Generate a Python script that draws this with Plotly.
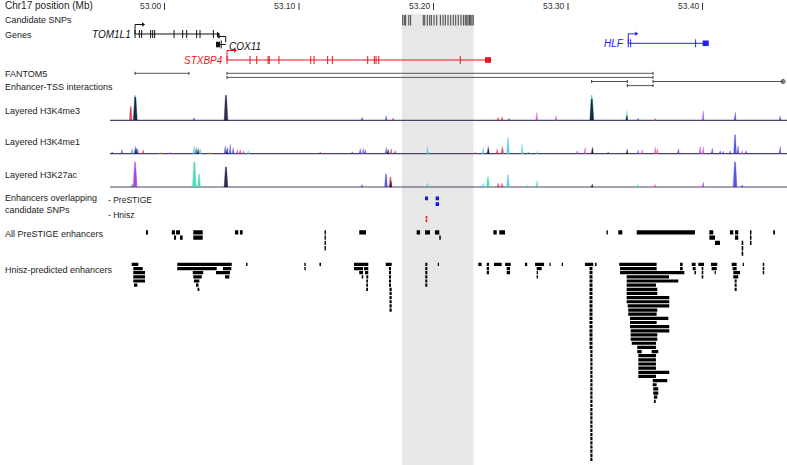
import plotly.graph_objects as go

# ---------------- data (positions in Mb on chr17) ----------------
tick_pos = [53.00, 53.10, 53.20, 53.30, 53.40]
tick_text = ["53.00", "53.10", "53.20", "53.30", "53.40"]

snp_region = [53.1766, 53.2297]

candidate_snps = [53.1771, 53.1783, 53.1793, 53.1816, 53.1830, 53.1924, 53.1935,
                  53.1954, 53.1972, 53.1984, 53.2004, 53.2024, 53.2051, 53.2071,
                  53.2088, 53.2108, 53.2128, 53.2147, 53.2165, 53.2184, 53.2204,
                  53.2222, 53.2236, 53.2247, 53.2257, 53.2267, 53.2277, 53.2286,
                  53.2296]

gene_names = ["TOM1L1", "COX11", "STXBP4", "HLF"]
gene_start = [52.9781, 53.0383, 53.0465, 53.3448]
gene_end = [53.0398, 53.0455, 53.2428, 53.4046]
gene_strand = ["+", "-", "+", "+"]
gene_exons = [
    [52.9781, 52.9813, 52.9830, 52.9897, 52.9912, 52.9927,
     53.0071, 53.0135, 53.0165, 53.0239, 53.0264, 53.0363],
    [53.0422],
    [53.0465, 53.0636, 53.0686, 53.0770, 53.0779, 53.0851, 53.1087, 53.1112,
     53.1213, 53.1248, 53.1511, 53.1560, 53.1573, 53.1593, 53.2199],
    [53.3448, 53.3466, 53.3949],
]
gene_block = [None, (53.0383, 53.0413), (53.2383, 53.2428), (53.4001, 53.4046)]

# FANTOM5 enhancer-TSS interactions
f5_start = [52.9781, 53.0465, 53.0465, 53.3176, 53.3441, 53.3632]
f5_end = [53.0182, 53.3632, 53.3632, 53.3441, 53.3632, 53.4599]
f5_row = [0, 0, 1, 2, 3, 2]

# layered histone peaks: position, signal height, cell-line colour
h3k4me3_pos = [52.9749, 52.9781, 52.9783, 53.0219, 53.0457, 53.1468, 53.1647, 53.1699,
               53.2480, 53.2509, 53.2561, 53.2767, 53.2909, 53.3176, 53.3177, 53.3436,
               53.3437, 53.3520, 53.3647, 53.4004, 53.4242, 53.4576]
h3k4me3_val = [14, 25, 23, 2.5, 25, 3, 4.5, 2.5, 3, 3.5, 2, 8, 4.5, 25, 21, 9.5, 5, 2, 2,
               9.5, 8, 4]
h3k4me3_col = ["red", "cyan", "black", "blue", "black", "blue", "blue", "red", "red", "red",
               "blue", "pink", "pink", "teal", "black", "teal", "black", "blue", "pink",
               "purple", "blue", "blue"]

h3k4me1_pos = [52.9610, 52.9682, 52.9758, 52.9781, 52.9788, 52.9799, 52.9840, 52.9967,
               53.0041, 53.0219, 53.0234, 53.0249, 53.0264, 53.0338, 53.0450, 53.0465,
               53.0487, 53.0509, 53.0539, 53.0561, 53.0584, 53.0621, 53.1156, 53.1394,
               53.1454, 53.1476, 53.1491, 53.1647, 53.1662, 53.1684, 53.1714, 53.1954,
               53.2309, 53.2368, 53.2405, 53.2407, 53.2472, 53.2509, 53.2515, 53.2554,
               53.2658, 53.2703, 53.2769, 53.3067, 53.3126, 53.3179, 53.3181, 53.3297,
               53.3439, 53.3520, 53.3550, 53.3647, 53.3662, 53.3820, 53.3981, 53.4004,
               53.4071, 53.4130, 53.4152, 53.4204, 53.4242, 53.4263, 53.4294, 53.4323,
               53.4576]
h3k4me1_val = [2, 4, 5, 7.5, 5.5, 5, 4, 2, 1.5, 8, 6, 5, 5, 2, 8, 6, 9.5, 6, 4, 4, 3, 3,
               2, 2, 5, 5.5, 4, 6.5, 4.5, 5, 3, 7, 2, 6.5, 7.5, 5, 5, 7.5, 5, 15.5, 9.5,
               2, 2.5, 3, 6.5, 7, 6, 2, 4.5, 4, 4, 6.5, 5, 5, 7.5, 7, 5.5, 3, 2.5, 3, 19,
               8, 3, 3, 7.5]
h3k4me1_col = ["blue", "blue", "green", "blue", "black", "blue", "red", "orange", "purple",
               "teal", "blue", "black", "teal", "orange", "blue", "black", "blue", "blue",
               "purple", "red", "purple", "cyan", "red", "blue", "blue", "purple", "blue",
               "blue", "black", "red", "blue", "cyan", "pink", "cyan", "blue", "black",
               "red", "red", "pink", "cyan", "cyan", "green", "teal", "purple", "pink",
               "pink", "black", "blue", "black", "purple", "pink", "pink", "pink", "blue",
               "purple", "pink", "blue", "blue", "blue", "blue", "blue", "blue", "pink",
               "blue", "blue"]

h3k27ac_pos = [52.9758, 52.9781, 52.9783, 53.0222, 53.0257, 53.0457, 53.1468, 53.1647,
               53.1680, 53.1682, 53.1954, 53.2368, 53.2405, 53.2480, 53.2509, 53.2554,
               53.2697, 53.2769, 53.3179, 53.3520, 53.3647, 53.4004, 53.4242, 53.4294]
h3k27ac_val = [3, 25, 18, 25, 13, 20, 2.5, 13, 10, 6, 4, 4, 10, 4, 4, 12, 2, 6.5, 3, 2.5,
               2.5, 5, 25, 2]
h3k27ac_col = ["green", "purple", "pink", "teal", "teal", "black", "blue", "blue", "red",
               "black", "cyan", "cyan", "teal", "red", "red", "cyan", "teal", "teal",
               "black", "teal", "pink", "purple", "blue", "blue"]

# enhancers overlapping candidate SNPs: (start, end, row)
prestige_overlap = [(53.1937, 53.1959, 0), (53.2016, 53.2041, 0), (53.2016, 53.2041, 1)]
hnisz_overlap = [(53.1942, 53.1954, 0), (53.1942, 53.1954, 1)]

# all PreSTIGE enhancers: (start, end, first row, last row)
prestige_all = [
    (52.9862, 52.9877, 0, 0), (53.0054, 53.0078, 0, 0), (53.0086, 53.0115, 0, 0),
    (53.0071, 53.0086, 1, 1), (53.0115, 53.0135, 1, 1), (53.0214, 53.0284, 0, 1),
    (53.0524, 53.0549, 0, 0), (53.0561, 53.0581, 0, 0), (53.1190, 53.1200, 0, 3),
    (53.1448, 53.1498, 0, 0), (53.1875, 53.1900, 0, 0), (53.1937, 53.1974, 0, 0),
    (53.2011, 53.2043, 0, 0), (53.2043, 53.2054, 1, 1), (53.2445, 53.2470, 0, 0),
    (53.2489, 53.2532, 0, 0), (53.3286, 53.3296, 0, 0), (53.3374, 53.3404, 0, 0),
    (53.3511, 53.3944, 0, 0), (53.4051, 53.4080, 0, 0), (53.4051, 53.4093, 1, 1),
    (53.4093, 53.4130, 2, 2), (53.4204, 53.4229, 0, 0), (53.4242, 53.4266, 0, 1),
    (53.4291, 53.4303, 2, 4), (53.4353, 53.4364, 0, 2), (53.4526, 53.4539, 0, 0),
]

# Hnisz-predicted enhancers: (start, end, first row, last row)
hnisz_all = [
    (52.9756, 52.9805, 0, 0), (52.9768, 52.9838, 1, 1), (52.9768, 52.9855, 2, 4),
    (52.9773, 52.9798, 5, 5),
    (53.0095, 53.0500, 0, 0), (53.0095, 53.0388, 1, 1), (53.0435, 53.0497, 1, 1),
    (53.0210, 53.0288, 2, 2), (53.0383, 53.0487, 2, 2), (53.0214, 53.0277, 3, 3),
    (53.0450, 53.0482, 3, 3), (53.0219, 53.0259, 4, 4), (53.0234, 53.0253, 5, 5),
    (53.0246, 53.0259, 6, 6),
    (53.0607, 53.0617, 0, 0), (53.1040, 53.1050, 0, 1), (53.1152, 53.1164, 0, 0),
    (53.1409, 53.1515, 0, 0), (53.1409, 53.1476, 1, 1), (53.1484, 53.1515, 1, 1),
    (53.1448, 53.1476, 2, 2), (53.1491, 53.1515, 2, 2), (53.1466, 53.1478, 3, 3),
    (53.1500, 53.1515, 3, 3), (53.1500, 53.1513, 4, 6),
    (53.1645, 53.1689, 0, 0), (53.1669, 53.1684, 1, 5), (53.1673, 53.1689, 6, 11),
    (53.1939, 53.1954, 0, 5), (53.2032, 53.2041, 0, 0),
    (53.2333, 53.2358, 0, 0), (53.2396, 53.2413, 0, 2), (53.2450, 53.2507, 0, 0),
    (53.2532, 53.2574, 0, 0), (53.2544, 53.2569, 1, 2), (53.2680, 53.2697, 0, 0),
    (53.2755, 53.2822, 0, 0), (53.2767, 53.2804, 1, 1), (53.2767, 53.2777, 2, 3),
    (53.2862, 53.2871, 0, 0), (53.2953, 53.2963, 0, 0),
    (53.3126, 53.3188, 0, 0), (53.3160, 53.3182, 1, 20), (53.3166, 53.3182, 21, 47),
    (53.3201, 53.3213, 0, 0),
    (53.3381, 53.3659, 0, 0), (53.3387, 53.3659, 1, 1), (53.3387, 53.3865, 2, 2),
    (53.3436, 53.3751, 3, 3), (53.3436, 53.3820, 4, 4), (53.3436, 53.3654, 5, 5),
    (53.3436, 53.3664, 6, 7), (53.3436, 53.3753, 8, 9), (53.3444, 53.3753, 10, 10),
    (53.3448, 53.3664, 11, 11), (53.3448, 53.3659, 12, 12), (53.3461, 53.3746, 13, 13),
    (53.3461, 53.3659, 14, 14), (53.3461, 53.3753, 15, 15), (53.3466, 53.3753, 16, 16),
    (53.3466, 53.3664, 17, 18), (53.3474, 53.3654, 19, 19), (53.3515, 53.3654, 20, 20),
    (53.3515, 53.3548, 21, 21), (53.3622, 53.3671, 21, 21), (53.3523, 53.3654, 22, 25),
    (53.3523, 53.3753, 26, 26), (53.3523, 53.3654, 27, 27), (53.3630, 53.3738, 28, 28),
    (53.3630, 53.3659, 29, 29), (53.3634, 53.3671, 30, 31), (53.3639, 53.3664, 32, 32),
    (53.3639, 53.3652, 33, 33),
    (53.3833, 53.3853, 0, 1), (53.3920, 53.3949, 0, 0), (53.3927, 53.3949, 1, 1),
    (53.3940, 53.3952, 2, 2), (53.3969, 53.4011, 0, 0), (53.3994, 53.4006, 1, 3),
    (53.4063, 53.4110, 0, 0), (53.4068, 53.4106, 1, 1), (53.4090, 53.4099, 2, 2),
    (53.4217, 53.4254, 0, 0), (53.4224, 53.4254, 1, 1), (53.4229, 53.4279, 2, 2),
    (53.4229, 53.4266, 3, 3), (53.4239, 53.4254, 4, 6), (53.4299, 53.4308, 0, 0),
    (53.4448, 53.4459, 0, 2),
]

# ---------------- styling / layout ----------------
W, H = 787, 465
MB_PER_PX = 0.0007435
X_RANGE = [53.0 - 164.5 * MB_PER_PX, 53.0 + (W - 164.5) * MB_PER_PX]
TRACK_X = [53.0 - 54.5 * MB_PER_PX, X_RANGE[1]]
FONT = "Liberation Sans, Arial, sans-serif"
TXT = "#222222"

COLORS = {
    "black": "#0b0a2e", "blue": "#3a3ae0", "red": "#d9263a", "pink": "#e342b4",
    "purple": "#a040e6", "cyan": "#4cc6f2", "teal": "#34d6ac", "green": "#2a9a4a",
    "orange": "#f0a030",
}
GENE_COLORS = ["#111111", "#111111", "#e8141c", "#2020f0"]
GENE_Y = [34, 44.5, 60, 43.3]
GENE_LABEL_Y = [34.7, 46.5, 60.8, 43]

fig = go.Figure()


def seg_trace(xs, ys, color, width=1.0):
    fig.add_trace(go.Scatter(x=xs, y=ys, mode="lines", line=dict(color=color, width=width),
                             hoverinfo="skip", showlegend=False))


def rect_trace(rects, color, opacity=1.0):
    xs, ys = [], []
    for x0, x1, y0, y1 in rects:
        xs += [x0, x1, x1, x0, x0, None]
        ys += [y0, y0, y1, y1, y0, None]
    fig.add_trace(go.Scatter(x=xs, y=ys, mode="lines", fill="toself", fillcolor=color,
                             opacity=opacity, line=dict(width=0, color=color),
                             hoverinfo="skip", showlegend=False))


# grey highlight of the candidate-SNP region
fig.add_shape(type="rect", xref="x", yref="y", x0=snp_region[0], x1=snp_region[1],
              y0=14, y1=H, fillcolor="#e7e7e7", line=dict(width=0), layer="below")

# axis ticks on top
tx, ty = [], []
for p in tick_pos:
    tx += [p, p, None]
    ty += [3, 10, None]
seg_trace(tx, ty, "#333333", 1)
for p, t in zip(tick_pos, tick_text):
    fig.add_annotation(x=p, y=6.2, xref="x", yref="y", text=t, showarrow=False,
                       xanchor="right", xshift=-1, font=dict(family=FONT, size=8.5, color="#333"))

# candidate SNPs
sx, sy = [], []
for p in candidate_snps:
    sx += [p, p, None]
    sy += [15, 25.5, None]
seg_trace(sx, sy, "#444444", 1)

# genes
for i, name in enumerate(gene_names):
    c = GENE_COLORS[i]
    gy = GENE_Y[i]
    seg_trace([gene_start[i], gene_end[i]], [gy, gy], c, 1)
    ex, ey = [], []
    for e in gene_exons[i]:
        ex += [e, e, None]
        ey += [gy - 4, gy + 4, None]
    seg_trace(ex, ey, c, 1)
    if gene_block[i] is not None:
        b0, b1 = gene_block[i]
        rect_trace([(b0, b1, gy - 2.8, gy + 2.8)], c)
    # TSS arrow
    if gene_strand[i] == "+":
        tss = gene_start[i]
        tip = tss + 8 * MB_PER_PX
        top = gy - 9.5
        seg_trace([tss, tss, tip], [gy, top, top], c, 1)
        fig.add_trace(go.Scatter(x=[tip], y=[top], mode="markers",
                                 marker=dict(symbol="triangle-right", size=4, color=c),
                                 hoverinfo="skip", showlegend=False))
    else:
        tss = gene_end[i]
        tip = tss - 7 * MB_PER_PX
        top = gy - 8
        seg_trace([tss, tss, tip], [gy - 2, top, top], c, 1)
        fig.add_trace(go.Scatter(x=[tip], y=[top], mode="markers",
                                 marker=dict(symbol="triangle-left", size=4, color=c),
                                 hoverinfo="skip", showlegend=False))
    if name == "COX11":
        fig.add_annotation(x=gene_end[i], y=GENE_LABEL_Y[i], xref="x", yref="y", text="<i>%s</i>" % name,
                           showarrow=False, xanchor="left", xshift=1,
                           font=dict(family=FONT, size=10, color=c))
    else:
        fig.add_annotation(x=gene_start[i], y=GENE_LABEL_Y[i], xref="x", yref="y", text="<i>%s</i>" % name,
                           showarrow=False, xanchor="right", xshift=-2,
                           font=dict(family=FONT, size=10, color=c))
# TOM1L1 end chevron
fig.add_trace(go.Scatter(x=[gene_end[0]], y=[GENE_Y[0]], mode="markers",
                         marker=dict(symbol="triangle-right", size=4, color=GENE_COLORS[0]),
                         hoverinfo="skip", showlegend=False))

# FANTOM5 interactions
F5_Y0, F5_DY = 73.3, 4.1
fx, fy, ftx, fty = [], [], [], []
for a, b, r in zip(f5_start, f5_end, f5_row):
    y = F5_Y0 + F5_DY * r
    fx += [a, b, None]
    fy += [y, y, None]
    ftx += [a, a, None, b, b, None]
    fty += [y - 1.5, y + 1.5, None, y - 1.5, y + 1.5, None]
seg_trace(fx, fy, "#555555", 1)
seg_trace(ftx, fty, "#333333", 1)
fig.add_trace(go.Scatter(x=[f5_end[-1]], y=[F5_Y0 + F5_DY * f5_row[-1]], mode="markers",
                         marker=dict(symbol="circle-open", size=4, color="#444"),
                         hoverinfo="skip", showlegend=False))

# layered histone tracks
COLOR_ORDER = ["cyan", "teal", "green", "orange", "red", "pink", "purple", "blue", "black"]
tracks = [
    (120.3, h3k4me3_pos, h3k4me3_val, h3k4me3_col),
    (153.7, h3k4me1_pos, h3k4me1_val, h3k4me1_col),
    (187.0, h3k27ac_pos, h3k27ac_val, h3k27ac_col),
]
for base, pos, val, col in tracks:
    seg_trace(TRACK_X, [base, base], "#4d4560", 1.2)
    for cname in COLOR_ORDER:
        xs, ys = [], []
        for p, v, c in zip(pos, val, col):
            if c != cname:
                continue
            w = (1.9 if v >= 20 else 1.4 if v >= 10 else 1.0) * MB_PER_PX
            xs += [p - w, p - 0.3 * w, p + 0.3 * w, p + w, p - w, None]
            ys += [base, base - v, base - v, base, base, None]
        if xs:
            fig.add_trace(go.Scatter(x=xs, y=ys, mode="lines", fill="toself",
                                     fillcolor=COLORS[cname], opacity=0.85,
                                     line=dict(width=0.3, color=COLORS[cname]),
                                     hoverinfo="skip", showlegend=False))

# enhancers overlapping candidate SNPs
rect_trace([(a, b, 196.5 + 5.8 * r, 196.5 + 5.8 * r + 3.8) for a, b, r in prestige_overlap], "#1414f0")
rect_trace([(a, b, 216.0 + 3.3 * r, 216.0 + 3.3 * r + 2.6) for a, b, r in hnisz_overlap], "#f01414")

# all PreSTIGE enhancers
ps_rects = []
for a, b, r0, r1 in prestige_all:
    for r in range(r0, r1 + 1):
        ps_rects.append((a, b, 230.2 + 5.3 * r, 230.2 + 5.3 * r + 4.3))
rect_trace(ps_rects, "#000000")

# Hnisz-predicted enhancers
hz_rects = []
for a, b, r0, r1 in hnisz_all:
    for r in range(r0, r1 + 1):
        hz_rects.append((a, b, 262.8 + 4.15 * r, 262.8 + 4.15 * r + 3.2))
rect_trace(hz_rects, "#000000")

# left-hand labels
labels = [
    ("Chr17 position (Mb)", 5.5, 10), ("Candidate SNPs", 19.5, 9), ("Genes", 35, 9),
    ("FANTOM5", 73.5, 9), ("Enhancer-TSS interactions", 86.5, 9),
    ("Layered H3K4me3", 111, 9), ("Layered H3K4me1", 142, 9), ("Layered H3K27ac", 174.5, 9),
    ("Enhancers overlapping", 198.3, 9), ("candidate SNPs", 209.8, 9),
    ("All PreSTIGE enhancers", 233.5, 9), ("Hnisz-predicted enhancers", 269.5, 9),
]
for t, y, s in labels:
    fig.add_annotation(x=3 / W, y=y, xref="paper", yref="y", text=t, showarrow=False,
                       xanchor="left", yanchor="middle", font=dict(family=FONT, size=s, color=TXT))
for t, y in [("- PreSTIGE", 199.5), ("- Hnisz", 214.5)]:
    fig.add_annotation(x=106 / W, y=y, xref="paper", yref="y", text=t, showarrow=False,
                       xanchor="left", yanchor="middle", font=dict(family=FONT, size=8.5, color=TXT))

fig.update_layout(
    width=W, height=H, autosize=False,
    margin=dict(l=0, r=0, t=0, b=0, pad=0),
    paper_bgcolor="white", plot_bgcolor="white", showlegend=False,
    xaxis=dict(range=X_RANGE, visible=False, fixedrange=True),
    yaxis=dict(range=[H, 0], visible=False, fixedrange=True),
)

fig.write_html("out.html", config={"displayModeBar": False},
               post_script="document.body.style.margin='0px';")
